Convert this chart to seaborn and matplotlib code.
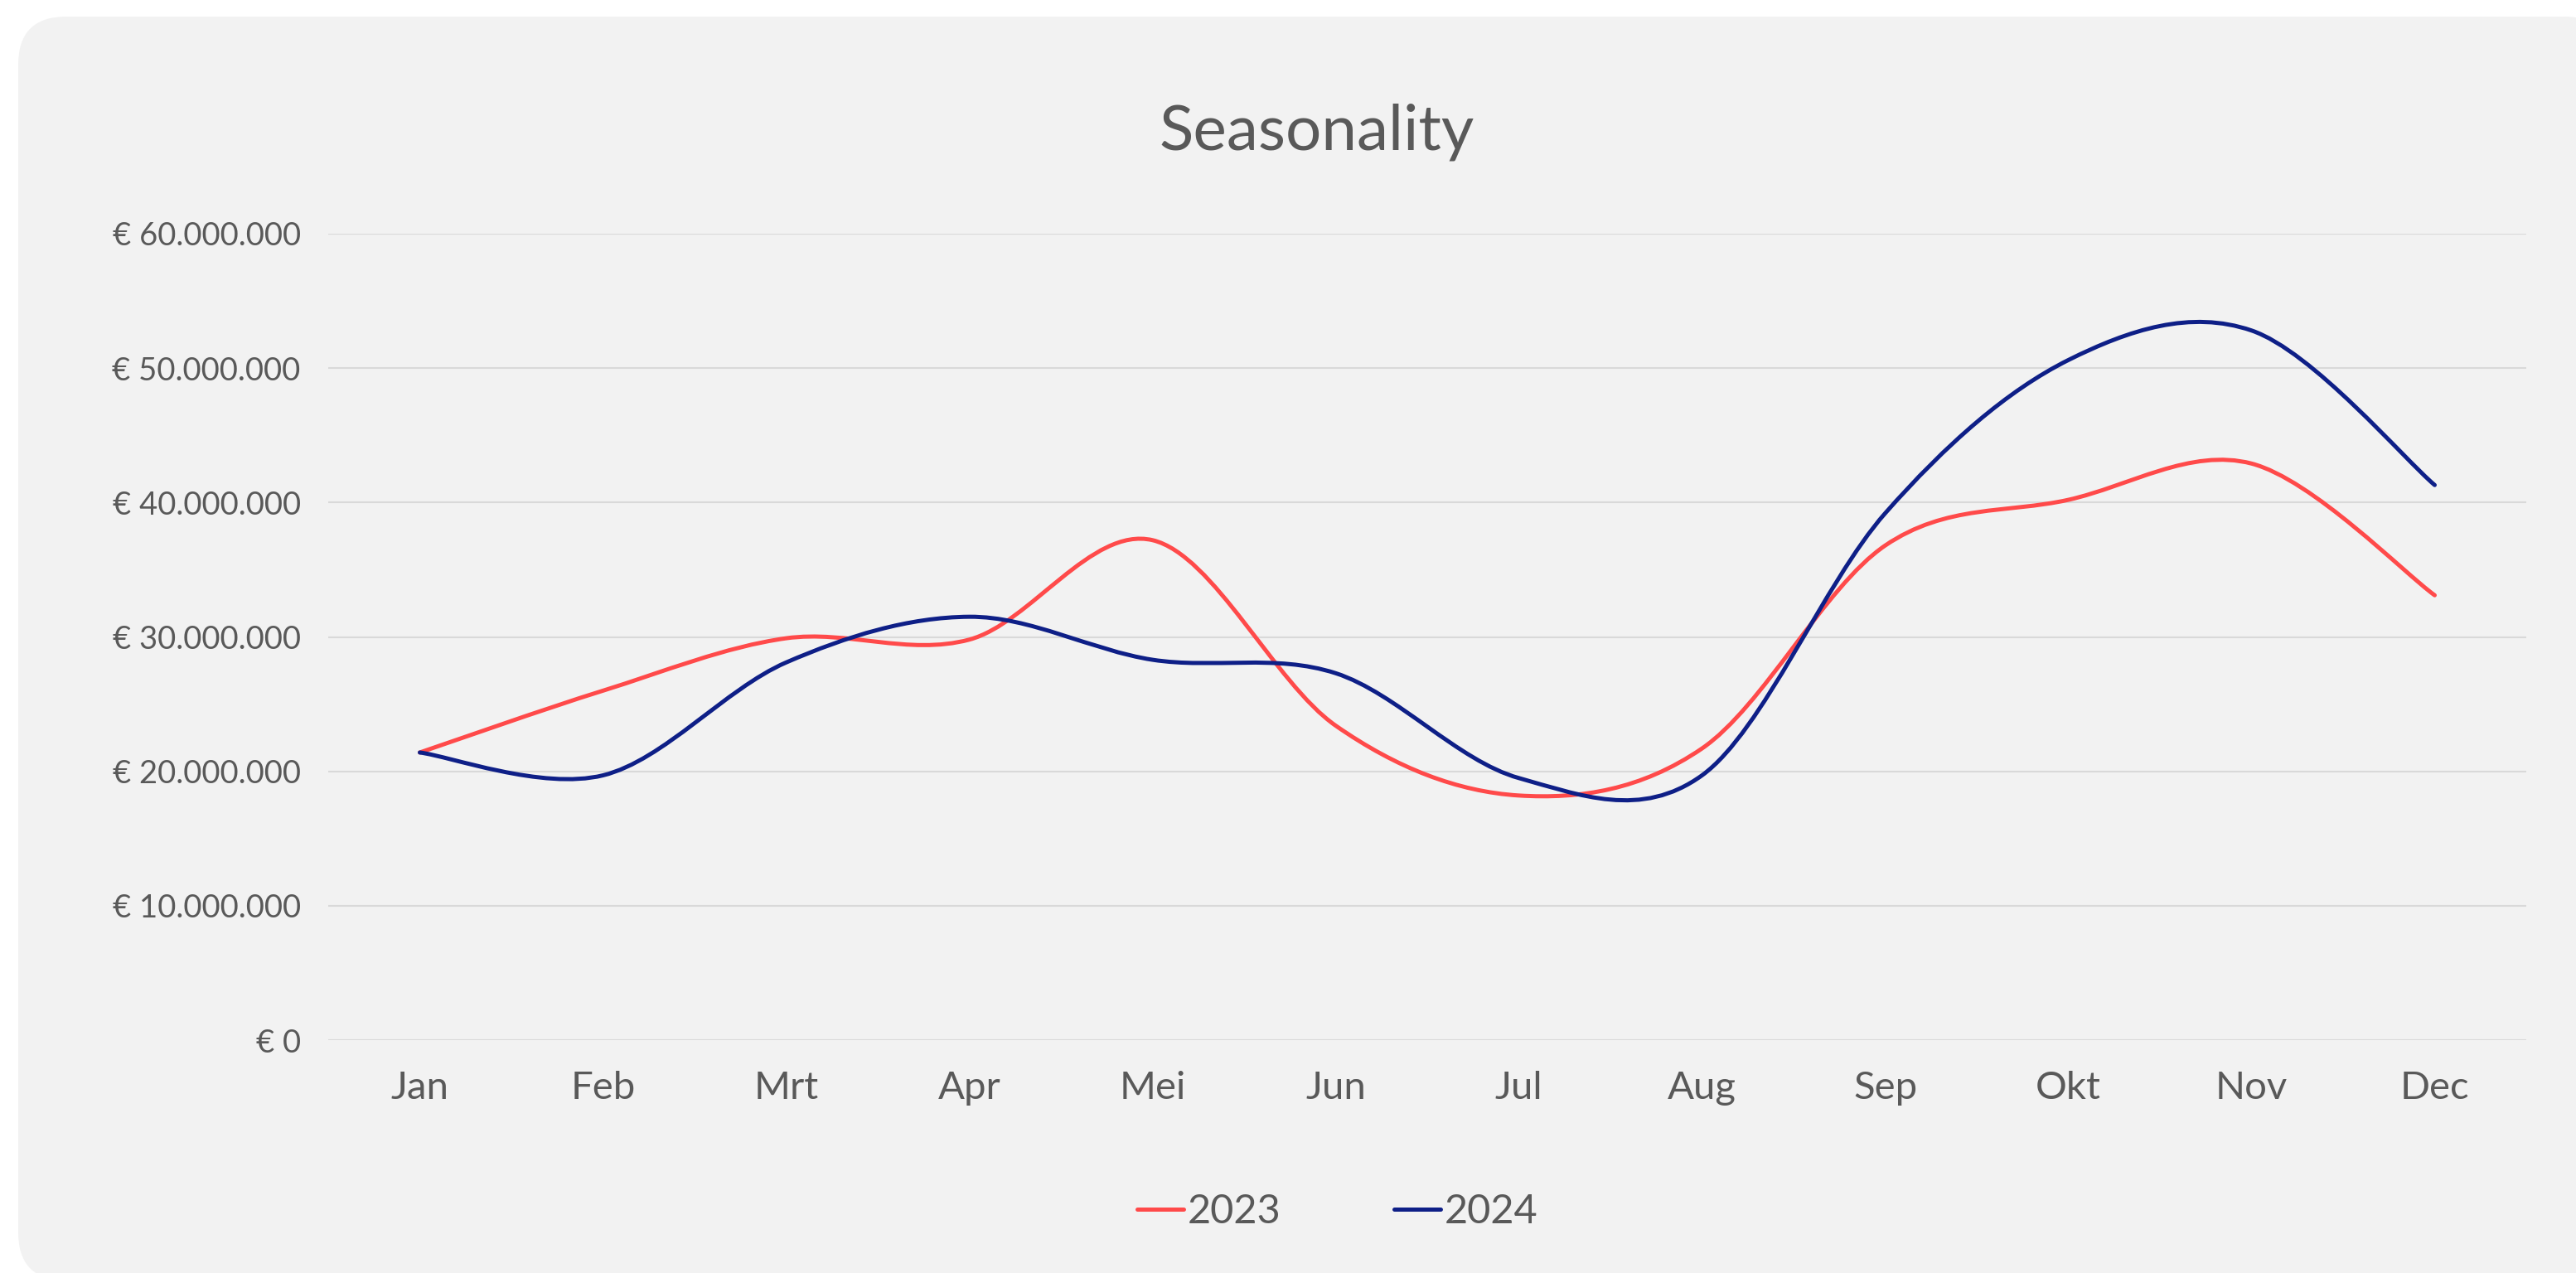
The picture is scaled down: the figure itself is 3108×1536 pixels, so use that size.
import numpy as np
import pandas as pd
import matplotlib
matplotlib.use("Agg")
import matplotlib.pyplot as plt
import seaborn as sns
from matplotlib.path import Path
from matplotlib.patches import PathPatch, FancyBboxPatch
from matplotlib.lines import Line2D
from matplotlib.ticker import FuncFormatter, MultipleLocator
from matplotlib.transforms import IdentityTransform

# ---------------- data ----------------
months = ["Jan", "Feb", "Mrt", "Apr", "Mei", "Jun", "Jul", "Aug", "Sep", "Okt", "Nov", "Dec"]
sales_2023 = [21.4, 26.0, 29.9, 29.8, 37.2, 23.4, 18.2, 21.7, 36.8, 40.2, 42.9, 33.1]
sales_2024 = [21.4, 19.7, 28.1, 31.5, 28.3, 27.3, 19.5, 19.7, 39.2, 50.6, 52.8, 41.3]
series_names = ["2023", "2024"]
series_colors = {"2023": "#FF4A4A", "2024": "#0E1F87"}
title_text = "Seasonality"

df = pd.DataFrame({
    "Maand": months * 2,
    "Omzet": [v * 1e6 for v in sales_2023] + [v * 1e6 for v in sales_2024],
    "Jaar": ["2023"] * 12 + ["2024"] * 12,
})

# ---------------- style ----------------
sns.set_style("white")
plt.rcParams["font.family"] = ["Lato", "DejaVu Sans"]
TEXT = "#595959"
GRID = "#D9D9D9"
CARD = "#F2F2F2"
LW = 3.6

W, H = 3108, 1536
fig = plt.figure(figsize=(W / 100, H / 100), dpi=100)
fig.patch.set_facecolor("white")

# rounded card background (pixel coordinates, origin bottom-left)
card = FancyBboxPatch((22, H - 1545), 3152 - 22, 1545 - 20,
                      boxstyle="round,pad=0,rounding_size=58",
                      transform=IdentityTransform(),
                      facecolor=CARD, edgecolor="none", zorder=-10)
fig.add_artist(card)

ax_left, ax_right = 396 / W, 3048 / W
ax_bottom, ax_top = 1 - 1255 / H, 1 - 282 / H
ax = fig.add_axes([ax_left, ax_bottom, ax_right - ax_left, ax_top - ax_bottom], zorder=5)
ax.set_facecolor("none")
ax.patch.set_alpha(0)

sns.lineplot(data=df, x="Maand", y="Omzet", hue="Jaar", palette=series_colors,
             sort=False, ax=ax, legend=False)

# replace straight segments by Excel-style smoothed Bezier curves
def smooth_path(xy):
    n = len(xy)
    verts = [tuple(xy[0])]
    codes = [Path.MOVETO]
    for i in range(n - 1):
        p0 = xy[i - 1] if i > 0 else xy[i]
        p1 = xy[i]
        p2 = xy[i + 1]
        p3 = xy[i + 2] if i + 2 < n else xy[i + 1]
        c1 = p1 + (p2 - p0) / 6.0
        c2 = p2 - (p3 - p1) / 6.0
        verts += [tuple(c1), tuple(c2), tuple(p2)]
        codes += [Path.CURVE4] * 3
    return Path(verts, codes)

for line in list(ax.lines):
    xy = np.asarray(line.get_xydata(), dtype=float)
    color = line.get_color()
    line.remove()
    patch = PathPatch(smooth_path(xy), facecolor="none", edgecolor=color,
                      lw=LW, capstyle="round", joinstyle="round", zorder=3)
    ax.add_patch(patch)

ax.set_xlim(-0.5, 11.5)
ax.set_ylim(0, 60e6)
ax.yaxis.set_major_locator(MultipleLocator(10e6))
ax.yaxis.set_major_formatter(FuncFormatter(lambda v, p: "€ " + f"{int(round(v)):,}".replace(",", ".")))
ax.grid(axis="y", color=GRID, lw=1.5, zorder=1)
ax.grid(axis="x", visible=False)
ax.set_axisbelow(True)
for s in ax.spines.values():
    s.set_visible(False)
ax.set_xlabel("")
ax.set_ylabel("")
ax.tick_params(axis="y", length=0, pad=24, labelsize=27.5, labelcolor=TEXT)
ax.tick_params(axis="x", length=0, pad=27, labelsize=34, labelcolor=TEXT)

fig.text(1589 / W, 1 - 180 / H, title_text, ha="center", va="baseline",
         fontsize=55, color=TEXT)

handles = [Line2D([], [], color=series_colors[n], lw=LW, solid_capstyle="round") for n in series_names]
fig.legend(handles, series_names, loc="center", bbox_to_anchor=(1614 / W, 1 - 1462 / H),
           ncol=2, frameon=False, fontsize=35, labelcolor=TEXT,
           handlelength=1.15, handletextpad=0.1, columnspacing=2.8)

fig.savefig("out.png", dpi=100, facecolor="white")
